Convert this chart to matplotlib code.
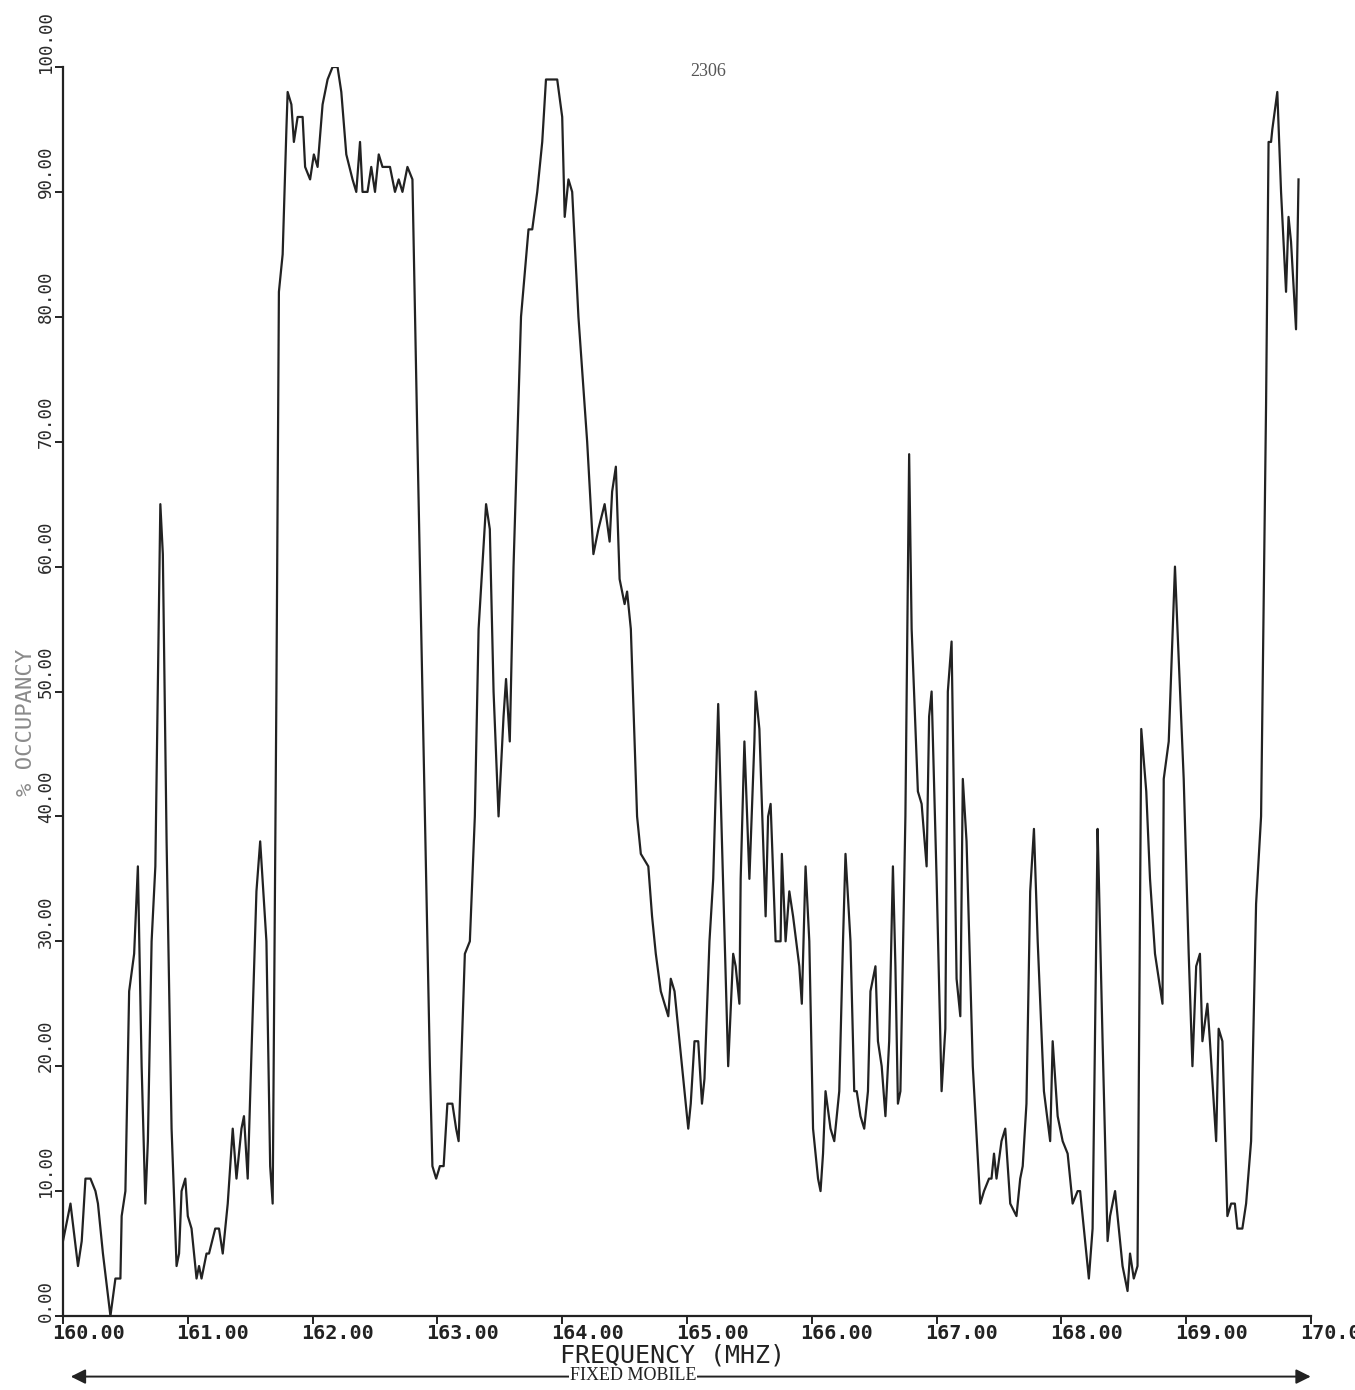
import matplotlib
matplotlib.use('Agg')
import matplotlib.pyplot as plt

# frequency offsets (MHz above 160) and occupancy (%)
freq_offset = [
    0.00, 0.06, 0.12, 0.15, 0.18, 0.22, 0.26, 0.28, 0.32, 0.38,
    0.42, 0.46, 0.47, 0.50, 0.53, 0.57, 0.60, 0.63, 0.66, 0.68,
    0.71, 0.74, 0.78, 0.80, 0.83, 0.87, 0.91, 0.93, 0.95, 0.98,
    1.00, 1.03, 1.07, 1.09, 1.11, 1.15, 1.17, 1.22, 1.25, 1.28,
    1.32, 1.36, 1.39, 1.43, 1.45, 1.48, 1.51, 1.55, 1.58, 1.63,
    1.66, 1.68, 1.71, 1.73, 1.76, 1.79, 1.80, 1.83, 1.85, 1.88,
    1.92, 1.94, 1.98, 2.01, 2.04, 2.08, 2.12, 2.16, 2.20, 2.23,
    2.27, 2.32, 2.35, 2.38, 2.40, 2.44, 2.47, 2.50, 2.53, 2.56,
    2.62, 2.66, 2.69, 2.72, 2.76, 2.80, 2.84, 2.90, 2.94, 2.96,
    2.99, 3.02, 3.05, 3.08, 3.12, 3.15, 3.17, 3.22, 3.26, 3.30,
    3.33, 3.39, 3.42, 3.45, 3.49, 3.53, 3.55, 3.58, 3.61, 3.64,
    3.67, 3.73, 3.76, 3.80, 3.84, 3.87, 3.91, 3.96, 4.00, 4.02,
    4.05, 4.08, 4.13, 4.20, 4.25, 4.29, 4.34, 4.38, 4.40, 4.43,
    4.46, 4.50, 4.52, 4.55, 4.60, 4.63, 4.69, 4.72, 4.75, 4.79,
    4.85, 4.87, 4.90, 4.94, 4.98, 5.01, 5.03, 5.06, 5.09, 5.12,
    5.14, 5.18, 5.21, 5.25, 5.28, 5.33, 5.37, 5.39, 5.42, 5.43,
    5.46, 5.50, 5.54, 5.55, 5.58, 5.63, 5.65, 5.67, 5.71, 5.75,
    5.76, 5.79, 5.82, 5.85, 5.90, 5.92, 5.95, 5.98, 6.01, 6.05,
    6.07, 6.09, 6.11, 6.15, 6.18, 6.22, 6.25, 6.27, 6.31, 6.34,
    6.36, 6.39, 6.42, 6.45, 6.47, 6.51, 6.53, 6.56, 6.59, 6.62,
    6.65, 6.67, 6.69, 6.71, 6.75, 6.78, 6.80, 6.85, 6.88, 6.92,
    6.94, 6.96, 7.00, 7.04, 7.07, 7.09, 7.12, 7.16, 7.19, 7.21,
    7.24, 7.29, 7.35, 7.38, 7.42, 7.44, 7.46, 7.48, 7.52, 7.55,
    7.59, 7.64, 7.67, 7.69, 7.72, 7.75, 7.78, 7.81, 7.86, 7.91,
    7.93, 7.97, 8.01, 8.05, 8.09, 8.13, 8.15, 8.19, 8.22, 8.25,
    8.29, 8.30, 8.33, 8.37, 8.39, 8.43, 8.46, 8.49, 8.53, 8.55,
    8.58, 8.61, 8.64, 8.68, 8.71, 8.75, 8.81, 8.82, 8.86, 8.91,
    8.93, 8.98, 9.02, 9.05, 9.08, 9.11, 9.13, 9.17, 9.19, 9.24,
    9.26, 9.29, 9.33, 9.36, 9.39, 9.41, 9.45, 9.48, 9.52, 9.56,
    9.60, 9.64, 9.66, 9.68, 9.69, 9.73, 9.76, 9.80, 9.82, 9.84,
    9.88, 9.90,
]
occupancy = [
    6, 9, 4, 6, 11, 11, 10, 9, 5, 0,
    3, 3, 8, 10, 26, 29, 36, 20, 9, 14,
    30, 36, 65, 61, 38, 15, 4, 5, 10, 11,
    8, 7, 3, 4, 3, 5, 5, 7, 7, 5,
    9, 15, 11, 15, 16, 11, 21, 34, 38, 30,
    12, 9, 50, 82, 85, 95, 98, 97, 94, 96,
    96, 92, 91, 93, 92, 97, 99, 100, 100, 98,
    93, 91, 90, 94, 90, 90, 92, 90, 93, 92,
    92, 90, 91, 90, 92, 91, 70, 40, 20, 12,
    11, 12, 12, 17, 17, 15, 14, 29, 30, 40,
    55, 65, 63, 50, 40, 48, 51, 46, 60, 70,
    80, 87, 87, 90, 94, 99, 99, 99, 96, 88,
    91, 90, 80, 70, 61, 63, 65, 62, 66, 68,
    59, 57, 58, 55, 40, 37, 36, 32, 29, 26,
    24, 27, 26, 22, 18, 15, 17, 22, 22, 17,
    19, 30, 35, 49, 38, 20, 29, 28, 25, 35,
    46, 35, 46, 50, 47, 32, 40, 41, 30, 30,
    37, 30, 34, 32, 28, 25, 36, 30, 15, 11,
    10, 13, 18, 15, 14, 18, 30, 37, 30, 18,
    18, 16, 15, 18, 26, 28, 22, 20, 16, 22,
    36, 28, 17, 18, 40, 69, 55, 42, 41, 36,
    48, 50, 35, 18, 23, 50, 54, 27, 24, 43,
    38, 20, 9, 10, 11, 11, 13, 11, 14, 15,
    9, 8, 11, 12, 17, 34, 39, 30, 18, 14,
    22, 16, 14, 13, 9, 10, 10, 6, 3, 7,
    39, 35, 22, 6, 8, 10, 7, 4, 2, 5,
    3, 4, 47, 42, 35, 29, 25, 43, 46, 60,
    55, 43, 29, 20, 28, 29, 22, 25, 22, 14,
    23, 22, 8, 9, 9, 7, 7, 9, 14, 33,
    40, 73, 94, 94, 95, 98, 90, 82, 88, 86,
    79, 91,
]
freq = [160 + f for f in freq_offset]

x_ticks = [160, 161, 162, 163, 164, 165, 166, 167, 168, 169, 170]
x_labels = ['160.00', '161.00', '162.00', '163.00', '164.00', '165.00',
            '166.00', '167.00', '168.00', '169.00', '170.0']
y_ticks = [0, 10, 20, 30, 40, 50, 60, 70, 80, 90, 100]
y_labels = ['0.00', '10.00', '20.00', '30.00', '40.00', '50.00',
            '60.00', '70.00', '80.00', '90.00', '100.00']

fig = plt.figure(figsize=(13.55, 13.9), dpi=100)
ax = fig.add_axes([63 / 1355, 74 / 1390, 1248 / 1355, 1249 / 1390])

ax.plot(freq, occupancy, color='#222222', lw=1.6)
ax.set_xlim(160, 170)
ax.set_ylim(0, 100)

for s in ['top', 'right']:
    ax.spines[s].set_visible(False)
for s in ['left', 'bottom']:
    ax.spines[s].set_linewidth(1.6)
    ax.spines[s].set_color('#222222')

ax.set_xticks(x_ticks)
ax.set_xticklabels([])
ax.set_yticks(y_ticks)
ax.set_yticklabels([])
ax.tick_params(direction='out', length=6, width=1.4, color='#222222')

mono = 'DejaVu Sans Mono'
for t, lab in zip(x_ticks, x_labels):
    ax.text(t - 0.09, -1.4, lab, ha='left', va='center', fontsize=14.5,
            family=mono, fontweight='bold', color='#222222', clip_on=False)
for t, lab in zip(y_ticks, y_labels):
    ax.text(159.862, t - 0.5, lab, rotation=90, ha='center', va='bottom',
            fontsize=12.5, family=mono, color='#2a2a2a', clip_on=False)

fig.text(26 / 1355, 1 - 722 / 1390, '% OCCUPANCY', rotation=90, ha='center',
         va='center', fontsize=16, family=mono, color='#8a8a8a')
fig.text(673 / 1355, 1 - 1356 / 1390, 'FREQUENCY (MHZ)', ha='center',
         va='center', fontsize=18, family=mono, color='#222222')
fig.text(708 / 1355, 1 - 72 / 1390, '2306', ha='center', va='center',
         fontsize=13, family='Liberation Serif', color='#555555')

# double-headed arrow spanning the band
ax.annotate('', xy=(160.04, -4.85), xytext=(170.02, -4.85),
            xycoords='data', textcoords='data', annotation_clip=False,
            arrowprops=dict(arrowstyle='<|-|>', color='#222222', lw=1.4,
                            mutation_scale=22))
fig.text(633 / 1355, 1 - 1375 / 1390, 'FIXED MOBILE', ha='center',
         va='center', fontsize=13, family='Liberation Serif',
         color='#222222', bbox=dict(facecolor='white', edgecolor='none', pad=0.5))

fig.savefig('out.png', dpi=100, facecolor='white')
